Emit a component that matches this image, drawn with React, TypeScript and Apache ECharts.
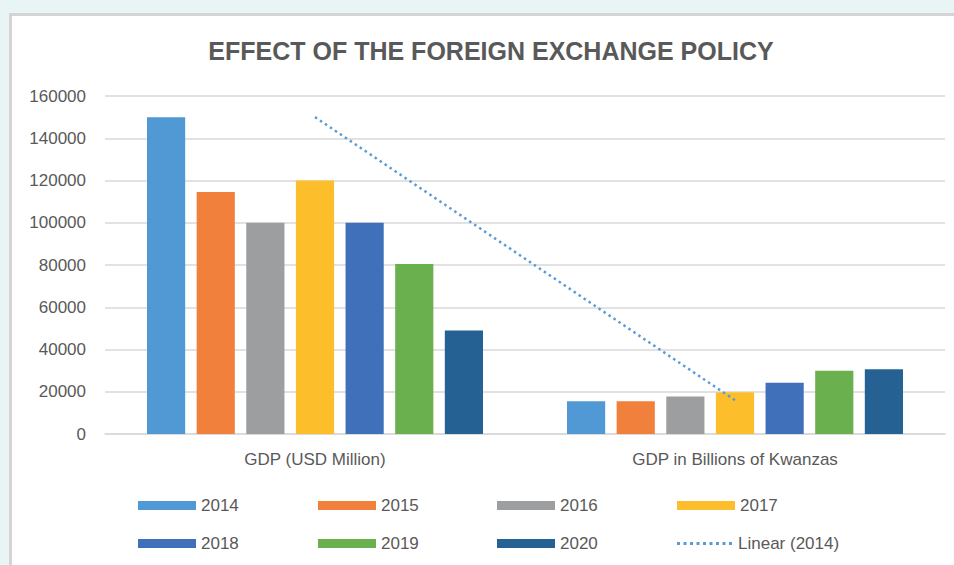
import React, { useEffect, useRef } from "react";
import * as echarts from "echarts";

const categories = ["GDP (USD Million)", "GDP in Billions of Kwanzas"];
const years = ["2014", "2015", "2016", "2017", "2018", "2019", "2020"];
const colors = ["#5199d5", "#f0803c", "#9c9e9f", "#fdbe2c", "#4070ba", "#6bb04f", "#256193"];
const values2014 = [150000, 15500];
const values2015 = [114500, 15500];
const values2016 = [100000, 17800];
const values2017 = [120000, 19800];
const values2018 = [100000, 24300];
const values2019 = [80500, 30000];
const values2020 = [49000, 30600];
const linear2014 = [150000, 16000];
const yTicks = { min: 0, max: 160000, interval: 20000 };
const trendName = "Linear (2014)";

export default function App() {
  const ref = useRef<HTMLDivElement>(null);
  useEffect(() => {
    if (!ref.current) return;
    const chart = echarts.init(ref.current, null, { renderer: "svg" });
    const allValues = [values2014, values2015, values2016, values2017, values2018, values2019, values2020];
    const font = "'Liberation Sans', Arial, sans-serif";
    const barSeries = years.map((y, i) => ({
      name: y,
      type: "bar",
      data: allValues[i],
      itemStyle: { color: colors[i] },
      barGap: "30%",
      barCategoryGap: "20%",
    }));
    let dots = "path://";
    for (let k = 0; k < 9; k++) dots += `M${k * 6.5},0h3v3h-3z `;
    const legendNames = [...years, trendName];
    const legends = legendNames.map((n, i) => {
      const isTrend = n === trendName;
      return {
        data: [n],
        left: Math.round(138 + (i % 4) * 179.7),
        top: i < 4 ? 497 : 535,
        padding: 0,
        itemWidth: isTrend ? 57 : 58,
        itemHeight: isTrend ? 3 : 9,
        itemGap: 0,
        textStyle: { color: "#595959", fontSize: 17, fontFamily: font },
        selectedMode: false,
        icon: isTrend ? dots : "rect",
      };
    });
    chart.setOption({
      animation: false,
      backgroundColor: "#e9f5f5",
      graphic: [
        {
          type: "rect",
          shape: { x: 10.5, y: 14.5, width: 960, height: 560 },
          style: { fill: "#ffffff", stroke: "#d4d4d4", lineWidth: 3 },
          z: -10,
        },
      ],
      title: {
        text: "EFFECT OF THE FOREIGN EXCHANGE POLICY",
        left: 486,
        textAlign: "center",
        top: 33,
        textStyle: { color: "#595959", fontSize: 25, fontWeight: "bold", fontFamily: font },
      },
      legend: legends,
      grid: { left: 105, right: 9, top: 96, bottom: 131, containLabel: false },
      xAxis: {
        type: "category",
        data: categories,
        axisLine: { lineStyle: { color: "#d9d9d9", width: 1.5 } },
        axisTick: { show: false },
        axisLabel: { color: "#595959", fontSize: 17, fontFamily: font, margin: 17 },
      },
      yAxis: {
        type: "value",
        min: yTicks.min,
        max: yTicks.max,
        interval: yTicks.interval,
        axisLine: { show: false },
        axisTick: { show: false },
        axisLabel: { color: "#595959", fontSize: 17, fontFamily: font, margin: 19, formatter: (v: number) => String(v) },
        splitLine: { lineStyle: { color: "#d9d9d9", width: 1.5 } },
      },
      series: [
        ...barSeries,
        {
          name: trendName,
          type: "line",
          data: linear2014,
          symbol: "none",
          z: 5,
          lineStyle: { color: "#5b9bd5", width: 2.5, type: [2.5, 3.5] },
          itemStyle: { color: "#5b9bd5" },
        },
      ],
    });
    return () => chart.dispose();
  }, []);
  return <div ref={ref} style={{ position: "fixed", left: 0, top: 0, width: 954, height: 565 }} />;
}
